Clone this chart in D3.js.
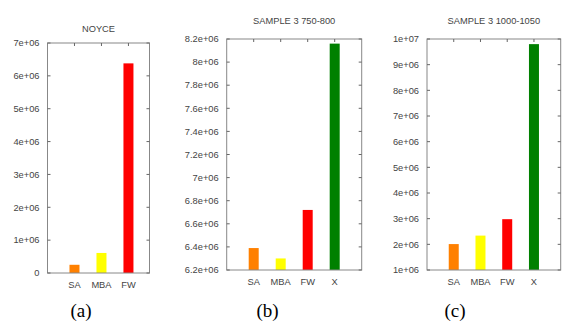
<html>
<script src="https://d3js.org/d3.v7.min.js"></script>
<body style="margin:0;background:#fff"></body>
<script>
// values
const catsA = ['SA', 'MBA', 'FW'];
const valsA = [250000, 610000, 6380000];
const ticksA = [0, 1e6, 2e6, 3e6, 4e6, 5e6, 6e6, 7e6];
const labelsA = ['0', '1e+06', '2e+06', '3e+06', '4e+06', '5e+06', '6e+06', '7e+06'];

const catsB = ['SA', 'MBA', 'FW', 'X'];
const valsB = [6390000, 6300000, 6720000, 8160000];
const ticksB = [6.2e6, 6.4e6, 6.6e6, 6.8e6, 7e6, 7.2e6, 7.4e6, 7.6e6, 7.8e6, 8e6, 8.2e6];
const labelsB = ['6.2e+06', '6.4e+06', '6.6e+06', '6.8e+06', '7e+06', '7.2e+06', '7.4e+06', '7.6e+06', '7.8e+06', '8e+06', '8.2e+06'];

const catsC = ['SA', 'MBA', 'FW', 'X'];
const valsC = [2010000, 2340000, 2980000, 9800000];
const ticksC = [1e6, 2e6, 3e6, 4e6, 5e6, 6e6, 7e6, 8e6, 9e6, 1e7];
const labelsC = ['1e+06', '2e+06', '3e+06', '4e+06', '5e+06', '6e+06', '7e+06', '8e+06', '9e+06', '1e+07'];

const colors = {SA: '#ff8000', MBA: '#ffff00', FW: '#ff0000', X: '#008000'};

const panels = [
  {title: 'NOYCE', cats: catsA, vals: valsA, ticks: ticksA, labels: labelsA,
   box: [47.5, 43, 149.5, 273], xmax: 3.78, ymin: 0, ymax: 7e6, titleY: 31.5, cap: '(a)', capX: 81},
  {title: 'SAMPLE 3 750-800', cats: catsB, vals: valsB, ticks: ticksB, labels: labelsB,
   box: [226.7, 39, 361.7, 270], xmax: 5, ymin: 6.2e6, ymax: 8.2e6, titleY: 24, cap: '(b)', capX: 267.5},
  {title: 'SAMPLE 3 1000-1050', cats: catsC, vals: valsC, ticks: ticksC, labels: labelsC,
   box: [427, 39, 560.7, 270], xmax: 5, ymin: 1e6, ymax: 1e7, titleY: 24, cap: '(c)', capX: 455}
];

const svg = d3.select('body').append('svg')
  .attr('width', 563)
  .attr('height', 323)
  .style('font-family', 'Liberation Sans, Arial, sans-serif');

panels.forEach(p => {
  const [x0, y0, x1, y1] = p.box;
  const x = d3.scaleLinear().domain([0, p.xmax]).range([x0, x1]);
  const y = d3.scaleLinear().domain([p.ymin, p.ymax]).range([y1, y0]);
  const g = svg.append('g');

  // bars
  g.selectAll('rect')
    .data(p.cats)
    .enter()
    .append('rect')
    .attr('x', (d, i) => x(i + 1) - 5)
    .attr('width', 10)
    .attr('y', (d, i) => y(p.vals[i]))
    .attr('height', (d, i) => y(p.ymin) - y(p.vals[i]))
    .attr('fill', d => colors[d]);

  // frame
  g.append('rect')
    .attr('x', x0).attr('y', y0)
    .attr('width', x1 - x0).attr('height', y1 - y0)
    .attr('fill', 'none')
    .attr('stroke', '#888')
    .attr('stroke-width', 1);

  // mirrored y ticks
  p.ticks.forEach((t, i) => {
    g.append('line').attr('x1', x0).attr('x2', x0 + 3).attr('y1', y(t)).attr('y2', y(t)).attr('stroke', '#666');
    g.append('line').attr('x1', x1).attr('x2', x1 - 3).attr('y1', y(t)).attr('y2', y(t)).attr('stroke', '#666');
    g.append('text')
      .attr('x', x0 - 8)
      .attr('y', y(t))
      .attr('dy', '0.35em')
      .attr('text-anchor', 'end')
      .attr('font-size', 9.3)
      .attr('fill', '#444')
      .text(p.labels[i]);
  });

  // x ticks at top, labels at bottom
  p.cats.forEach((c, i) => {
    g.append('line').attr('x1', x(i + 1)).attr('x2', x(i + 1)).attr('y1', y0).attr('y2', y0 + 3).attr('stroke', '#666');
    g.append('text')
      .attr('x', x(i + 1))
      .attr('y', y1 + 15)
      .attr('text-anchor', 'middle')
      .attr('font-size', 9.3)
      .attr('fill', '#444')
      .text(c);
  });

  g.append('text')
    .attr('x', (x0 + x1) / 2)
    .attr('y', p.titleY)
    .attr('text-anchor', 'middle')
    .attr('font-size', 9.3)
    .attr('fill', '#444')
    .text(p.title);

  g.append('text')
    .attr('x', p.capX)
    .attr('y', 317)
    .attr('text-anchor', 'middle')
    .attr('font-size', 19)
    .attr('font-family', 'Liberation Serif, Times New Roman, serif')
    .attr('fill', '#000')
    .text(p.cap);
});
</script>
</html>
